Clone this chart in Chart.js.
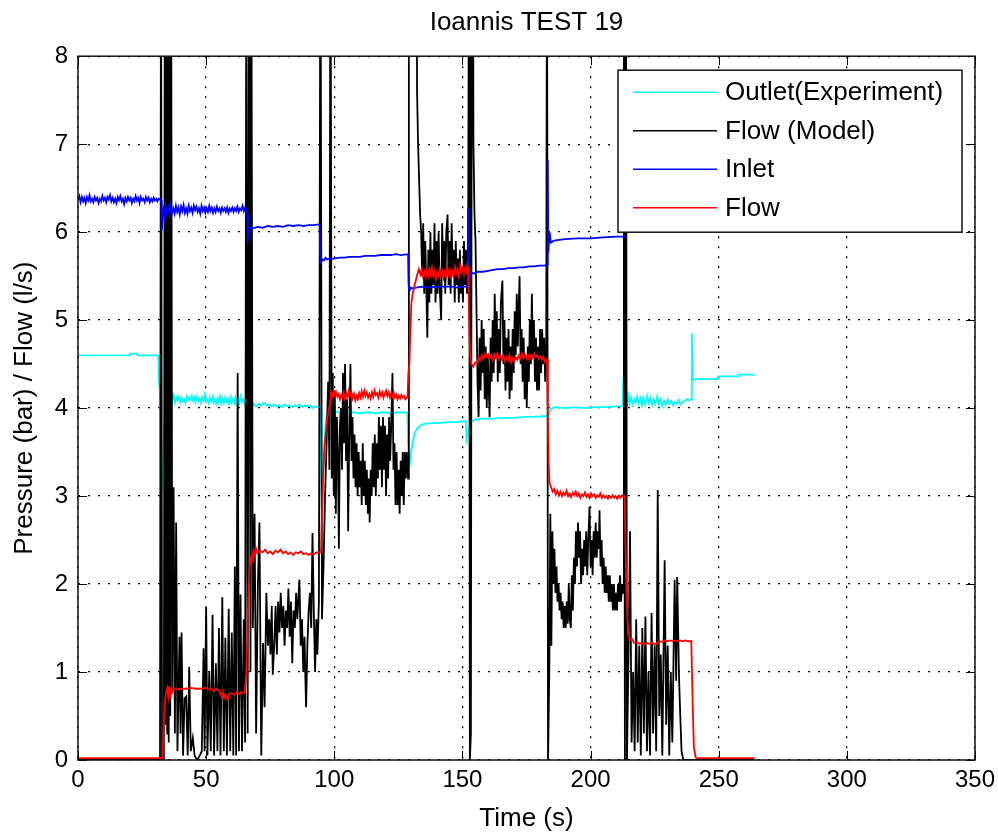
<!DOCTYPE html>
<html>
<head>
<meta charset="utf-8">
<title>Ioannis TEST 19</title>
<script src="https://cdn.jsdelivr.net/npm/chart.js@4.4.1/dist/chart.umd.min.js"></script>
<style>
  body { margin: 0; background: #ffffff; }
</style>
</head>
<body>
<canvas id="myChart" width="998" height="834"></canvas>
<script>
// [time (s), value] pairs
var outletExperiment = [
  [0,4.6],[20,4.6],[20.3,4.62],[23,4.62],[23.3,4.6],[31.3,4.6],[31.5,4.32],[32.0,4.2],[32.4,3.03],[32.9,3.1],
  [33.4,3.6],[33.9,4.0],[34.4,4.18],[34.9,4.05],[35.4,4.15],[35.9,4.06],[36.4,4.2],[36.9,4.08],[37.4,4.14],[37.9,4.06],
  [38.4,4.12],[38.9,4.09],[39.4,4.13],[39.9,4.07],[40.4,4.12],[40.9,4.08],[41.4,4.1],[41.9,4.06],[42.4,4.13],[42.9,4.09],
  [43.4,4.12],[43.9,4.1],[44.4,4.14],[44.9,4.08],[45.4,4.12],[45.9,4.07],[46.4,4.13],[46.9,4.08],[47.4,4.11],[47.9,4.06],
  [48.4,4.12],[48.9,4.08],[49.4,4.15],[49.9,4.07],[50.4,4.1],[50.9,4.06],[51.4,4.12],[51.9,4.08],[52.4,4.13],[52.9,4.06],
  [53.4,4.1],[53.9,4.05],[54.4,4.11],[54.9,4.07],[55.4,4.13],[55.9,4.05],[56.4,4.1],[56.9,4.06],[57.4,4.12],[57.9,4.07],
  [58.4,4.11],[58.9,4.05],[59.4,4.12],[59.9,4.06],[60.4,4.1],[60.9,4.05],[61.4,4.12],[61.9,4.06],[62.4,4.11],[62.9,4.05],
  [63.4,4.13],[63.9,4.07],[64.4,4.1],[64.9,4.05],[65.5,4.12],[65.9,3.6],[66.3,2.62],[66.8,3.3],[67.3,3.85],[67.8,4.0],
  [68.5,4.05],[69.5,4.02],[70.5,4.05],[71.5,4.03],[72.5,4.06],[73.5,4.03],[74.5,4.04],[75.5,4.02],[76.5,4.04],[77.5,4.02],
  [78.5,4.03],[79.5,4.01],[80.5,4.04],[81.5,4.02],[82.5,4.03],[83.5,4.01],[84.5,4.03],[85.5,4.02],[86.5,4.04],[87.5,4.01],
  [88.5,4.03],[89.5,4.02],[90.5,4.03],[91.5,4.0],[92.5,4.02],[93.5,4.01],[94.4,4.02],[94.7,3.6],[95.1,2.85],[95.6,3.2],
  [96.1,3.6],[96.7,3.85],[97.3,3.95],[98,3.97],[100,3.96],[102,3.95],[104,3.96],[106,3.95],[108,3.95],[110,3.94],
  [112,3.95],[114,3.95],[116,3.94],[118,3.95],[120,3.95],[122,3.94],[124,3.95],[126,3.95],[128.5,3.95],[128.8,3.6],
  [129.3,3.33],[129.9,3.48],[130.6,3.62],[131.4,3.72],[132.4,3.77],[133.5,3.8],[135,3.82],[138,3.83],[141,3.83],[144,3.84],
  [147,3.84],[150,3.85],[151.3,3.85],[151.6,3.64],[152.3,3.72],[153,3.82],[153.8,3.86],[155,3.87],[158,3.88],[162,3.88],
  [166,3.89],[170,3.89],[174,3.9],[178,3.9],[183,3.91],[183.5,3.93],[184.5,3.99],[186,4.01],[190,4.0],[194,4.01],
  [198,4.0],[202,4.01],[206,4.01],[210,4.02],[212.5,4.02],[212.8,4.35],[213.2,4.0],[213.7,4.18],[214.2,4.03],[214.7,4.14],
  [215.2,4.05],[215.8,4.12],[216.4,4.04],[217,4.1],[217.6,4.06],[218.2,4.13],[218.8,4.05],[219.4,4.11],[220,4.03],[220.6,4.12],
  [221.3,4.04],[222,4.14],[222.6,4.06],[223.3,4.12],[224,4.03],[224.6,4.1],[225.3,4.05],[226,4.13],[226.6,4.04],[227.3,4.1],
  [228,4.02],[228.7,4.08],[229.4,4.04],[230.1,4.1],[230.8,4.05],[231.5,4.08],[232.2,4.03],[232.9,4.07],[233.6,4.05],[234.3,4.09],
  [235,4.04],[235.8,4.07],[236.6,4.08],[237.4,4.1],[238.2,4.09],[239.2,4.1],[239.5,4.85],[239.8,4.32],[241,4.33],[246,4.33],
  [249.5,4.33],[249.8,4.36],[257.5,4.36],[257.8,4.38],[264,4.38]
];

var flowModel = [
  [0,0],[32.0,0],[32.4,10],[32.8,0],[33.5,0],[33.9,10],[34.2,0.4],[34.5,10],[34.8,0.3],[35.1,10],
  [35.4,0.2],[35.7,10],[36.0,0.5],[36.3,10],[36.8,0.8],[37.3,3.1],[37.8,0.3],[38.3,2.7],[38.8,0.1],[39.6,1.4],
  [40.0,0.3],[40.4,1.45],[41.0,0.05],[41.6,0.7],
  [42.2,0.72],[42.8,0.05],[43.4,1.06],[44.0,0.1],[44.8,0.25],[45.5,0.05],[46.5,0],[47.5,0.05],[48.3,0.1],[49.0,1.27],
  [49.4,0.1],[50.0,1.74],[50.5,0.05],[51.2,1.0],[51.8,0.1],[52.5,1.65],[53.1,0.05],[53.8,1.1],[54.4,0.1],[55.0,1.5],
  [55.6,0.05],[56.3,1.85],[56.9,0.1],[57.5,1.39],[58.1,0.05],[58.8,1.72],[59.4,0.1],[60.0,1.45],[60.6,0.05],[61.2,2.2],
  [61.7,0.05],[62.3,4.4],[62.8,0.1],[63.4,1.88],[64.0,0.1],[64.7,1.6],[65.2,0.2],[65.7,10],[66.2,0.3],[66.8,10],
  [67.3,1.0],[67.6,10],[68.2,1.5],[68.9,2.8],[69.5,0.3],[70.2,2.0],[70.8,2.7],[71.5,0.05],[72.2,1.33],[72.8,0.6],
  [73.5,1.9],[74.1,1.3],[74.6,1.6],[75.1,1.2],[75.6,1.75],[76.0,0.97],[76.6,1.33],[77.1,1.75],[77.6,1.2],[78.1,1.8],
  [78.6,1.45],[79.1,1.9],[79.6,1.5],[80.1,1.75],[80.6,1.3],[81.1,1.7],[81.6,1.5],[82.1,1.95],[82.6,1.4],[83.1,1.8],
  [83.6,1.1],[84.1,1.7],[84.6,1.5],[85.1,1.9],[85.6,1.6],[86.0,1.85],[86.4,2.05],[86.9,1.3],[87.4,1.6],[87.9,1.0],
  [88.4,1.4],[88.7,0.95],[89.0,0.6],[89.5,1.3],[90.0,1.7],[90.5,1.9],[91.0,1.5],[91.5,2.58],[92.0,1.7],[92.5,1.0],
  [93.0,1.6],[93.4,1.2],[94.0,1.8],[94.6,10],[95.2,1.6],[95.8,2.2],[96.4,3.0],[97.0,3.6],[97.6,4.3],[98.1,3.3],
  [98.5,10],[99.0,3.2],[99.4,4.4],[99.8,3.0],[100.2,4.2],[100.6,2.8],[101.0,3.9],[101.4,3.5],[101.8,2.4],[102.2,3.8],
  [102.6,4.0],[103.0,3.3],[103.4,4.4],[103.8,3.6],[104.2,4.5],[104.6,3.4],[105.0,4.1],[105.4,2.6],[105.8,3.6],[106.3,4.5],
  [106.7,3.4],[107.1,3.9],[107.5,3.2],[107.9,3.7],[108.3,3.1],[108.7,3.6],[109.1,3.0],[109.5,3.5],[109.9,3.1],[110.3,3.4],
  [110.7,2.9],[111.1,3.6],[111.5,3.0],[111.9,3.4],[112.3,2.9],[112.7,3.3],[113.1,2.8],[113.5,3.2],[113.8,2.7],[114.2,3.3],
  [114.6,3.0],[115.0,3.6],[115.4,3.1],[115.8,3.7],[116.2,3.0],[116.6,3.6],[117.0,3.2],[117.4,3.9],[117.8,3.3],[118.2,3.8],
  [118.6,3.1],[119.0,3.9],[119.4,3.3],[119.8,3.8],[120.2,3.0],[120.6,3.7],[121.0,3.2],[121.4,3.9],[121.8,3.4],[122.2,3.8],
  [122.7,4.4],[123.1,3.3],[123.5,3.6],[123.9,2.9],[124.3,3.5],[124.7,2.9],[125.1,3.3],[125.5,2.8],[125.9,3.4],[126.3,3.0],
  [126.7,3.5],[127.1,2.9],[127.5,3.5],[127.9,3.2],[128.3,3.5],[128.8,3.2],[129.1,10],[132.0,10],[132.3,7.6],[132.7,7.0],
  [133.1,6.6],[133.5,6.2],[133.9,6.0],[134.3,5.5],[134.7,6.1],[135.1,5.3],[135.5,5.9],[135.9,5.4],[136.3,4.8],[136.7,5.8],
  [137.1,5.2],[137.5,6.0],[137.9,5.3],[138.3,5.8],[138.7,5.4],[139.1,6.1],[139.5,5.2],[139.9,5.9],[140.3,5.3],[140.7,6.0],
  [141.1,5.4],[141.7,5.0],[142.1,6.1],[142.5,5.5],[142.9,5.9],[143.3,5.3],[143.7,6.0],[144.2,6.2],[144.6,5.4],[145.0,5.9],
  [145.4,5.3],[145.8,6.1],[146.2,5.5],[146.6,5.8],[147.0,5.2],[147.4,5.9],[147.8,5.4],[148.2,5.7],[148.6,5.2],[149.0,5.8],
  [149.4,5.3],[149.8,5.6],[150.2,5.2],[150.6,5.9],[151.0,5.4],[151.4,5.8],[151.8,5.3],[152.2,5.6],[152.6,10],[152.9,0],
  [153.3,0.3],[153.7,10],[154.1,10],[154.3,7.0],[154.7,6.2],[155.1,5.9],[155.5,5.1],[155.9,4.3],[156.3,3.9],[156.7,4.8],
  [157.1,4.2],[157.5,5.0],[157.9,4.4],[158.3,4.9],[158.7,4.1],[159.1,4.7],[159.5,4.0],[159.9,4.6],[160.3,4.2],[160.6,3.9],
  [161.0,4.8],[161.4,4.3],[161.8,5.0],[162.2,4.4],[162.6,5.3],[163.0,4.6],[163.4,5.1],[163.8,4.3],[164.2,4.9],[164.6,4.4],
  [165.0,5.2],[165.6,5.45],[166.0,4.5],[166.4,5.0],[166.8,4.2],[167.2,4.8],[167.6,4.3],[168.0,4.9],[168.4,4.1],[168.8,4.7],
  [169.2,4.2],[169.6,4.9],[170.0,4.4],[170.4,5.1],[170.8,4.6],[171.2,5.3],[171.6,4.7],[172.0,5.2],[172.3,5.5],[172.7,4.5],
  [173.1,4.9],[173.5,4.3],[173.9,4.8],[174.3,4.1],[174.7,4.6],[175.1,4.0],[175.5,4.7],[175.9,4.3],[176.3,5.0],[176.7,4.5],
  [177.1,5.3],[177.5,4.6],[177.9,5.0],[178.3,4.3],[178.7,4.8],[179.1,4.2],[179.5,4.7],[179.9,4.2],[180.3,4.9],[180.7,4.4],
  [181.1,4.9],[181.5,4.5],[181.9,4.8],[182.3,4.3],[182.7,4.6],[183.0,10],[183.4,0],[183.9,1.0],[184.3,2.8],[184.7,1.3],
  [185.1,2.6],[185.5,2.0],[185.9,2.4],[186.3,1.9],[186.7,2.2],[187.1,1.8],[187.5,2.0],[187.9,1.7],[188.3,1.9],[188.7,1.6],
  [189.1,1.8],[189.5,1.5],[189.9,1.75],[190.3,1.5],[190.7,1.8],[191.1,1.55],[191.5,2.0],[191.9,1.6],[192.3,1.5],[192.7,2.1],
  [193.1,1.7],[193.5,2.3],[193.9,2.0],[194.3,2.6],[194.7,2.2],[195.1,2.7],[195.5,2.3],[195.9,2.6],[196.3,2.0],[196.7,2.4],
  [197.1,2.1],[197.5,2.5],[197.9,2.2],[198.3,2.6],[198.7,2.1],[199.1,2.5],[199.6,2.88],[200.0,2.2],[200.4,2.5],[200.8,2.1],
  [201.2,2.6],[201.6,2.3],[202.0,2.7],[202.4,2.3],[202.8,2.6],[203.2,2.4],[203.5,2.84],[203.9,2.2],[204.3,2.5],[204.7,2.0],
  [205.1,2.3],[205.5,1.9],[205.9,2.2],[206.3,1.9],[206.7,2.1],[207.1,1.8],[207.5,2.1],[207.9,1.8],[208.3,2.0],[208.7,1.7],
  [209.1,2.0],[209.5,1.7],[209.9,1.9],[210.3,1.7],[210.7,2.0],[211.1,1.8],[211.5,2.1],[211.9,1.8],[212.3,2.0],[212.7,1.9],
  [213.0,10],[213.4,0],[213.8,10],[214.2,0],[214.8,1.2],[215.4,2.6],[216.0,0.2],[216.6,1.0],[217.2,0.1],[217.8,1.6],
  [218.4,0.2],[219.0,1.3],[219.6,0.05],[220.2,1.5],[220.8,0.3],[221.4,1.63],[222.0,0.1],[222.6,1.0],[223.2,0.05],[223.8,1.67],
  [224.4,0.3],[225.0,1.3],[225.6,0.1],[226.2,3.07],[226.8,0.5],[227.4,1.2],[228.0,0.05],[228.9,2.27],[229.5,0.4],[230.1,1.3],
  [230.7,0.05],[231.3,1.0],[231.9,0.2],[232.8,2.05],[233.4,0.9],[233.8,2.08],[234.5,0.95],[235.0,0.5],[235.5,0.1],[236.2,0],
  [264,0]
];

var inlet = [
  [0,6.37],[0.5,6.41],[1,6.34],[1.5,6.4],[2,6.35],[2.5,6.39],[3,6.33],[3.5,6.4],[4,6.36],[4.5,6.42],
  [5,6.35],[5.5,6.38],[6,6.34],[6.5,6.4],[7,6.36],[7.5,6.39],[8,6.33],[8.5,6.38],[9,6.35],[9.5,6.41],
  [10,6.36],[10.5,6.39],[11,6.34],[11.5,6.4],[12,6.37],[12.5,6.42],[13,6.35],[13.5,6.39],[14,6.34],[14.5,6.38],
  [15,6.33],[15.5,6.4],[16,6.36],[16.5,6.41],[17,6.35],[17.5,6.38],[18,6.32],[18.5,6.39],[19,6.35],[19.5,6.4],
  [20,6.36],[20.5,6.39],[21,6.33],[21.5,6.38],[22,6.35],[22.5,6.41],[23,6.36],[23.5,6.39],[24,6.33],[24.5,6.4],
  [25,6.36],[25.5,6.38],[26,6.34],[26.5,6.4],[27,6.36],[27.5,6.39],[28,6.34],[28.5,6.38],[29,6.35],[29.5,6.39],
  [30,6.36],[30.5,6.38],[31,6.35],[31.5,6.38],[32.3,6.37],[32.5,6.36],[32.7,6.02],[33.0,6.15],[33.4,6.25],[33.8,6.18],
  [34.2,6.3],[34.7,6.22],[35.2,6.28],[35.7,6.2],[36.2,6.3],[36.7,6.22],[37.2,6.27],[37.7,6.21],[38.2,6.3],[38.7,6.23],
  [39.2,6.28],[39.7,6.2],[40.2,6.29],[40.7,6.24],[41.2,6.31],[41.7,6.22],[42.2,6.27],[42.7,6.21],[43.2,6.3],[43.7,6.24],
  [44.2,6.28],[44.7,6.22],[45.2,6.3],[45.7,6.25],[46.2,6.29],[46.7,6.23],[47.2,6.27],[47.7,6.21],[48.2,6.3],[48.7,6.24],
  [49.2,6.28],[49.7,6.22],[50.2,6.27],[50.7,6.23],[51.2,6.3],[51.7,6.24],[52.2,6.28],[52.7,6.22],[53.2,6.27],[53.7,6.23],
  [54.2,6.29],[54.7,6.24],[55.2,6.27],[55.7,6.22],[56.2,6.28],[56.7,6.24],[57.2,6.27],[57.7,6.23],[58.2,6.28],[58.7,6.22],
  [59.2,6.27],[59.7,6.24],[60.2,6.28],[60.7,6.23],[61.2,6.27],[61.7,6.24],[62.2,6.29],[62.7,6.23],[63.2,6.27],[63.7,6.25],
  [64.2,6.3],[64.7,6.24],[65.2,6.28],[65.7,6.25],[66.0,6.2],[66.3,5.91],[66.8,5.98],[67.4,6.05],[68,6.04],[70,6.06],
  [72,6.05],[74,6.07],[76,6.06],[78,6.07],[80,6.06],[82,6.08],[84,6.07],[86,6.08],[88,6.07],[90,6.08],
  [92,6.08],[94.3,6.09],[94.5,5.75],[94.8,5.66],[95.4,5.69],[96,5.68],[96.6,5.71],[97.2,5.69],[98,5.7],[100,5.7],
  [102,5.71],[104,5.71],[106,5.72],[108,5.72],[110,5.72],[112,5.73],[114,5.73],[116,5.73],[118,5.74],[120,5.74],
  [122,5.74],[124,5.75],[126,5.74],[128.8,5.75],[129.0,5.4],[129.3,5.33],[129.8,5.37],[130.5,5.36],[132,5.37],[134,5.38],
  [136,5.37],[138,5.38],[140,5.37],[142,5.38],[144,5.38],[146,5.38],[148,5.37],[150,5.38],[152.0,5.38],[152.2,6.28],
  [152.5,5.52],[153,5.49],[153.5,5.54],[154.5,5.53],[156,5.55],[158,5.55],[160,5.56],[162,5.57],[164,5.58],[166,5.58],
  [168,5.59],[170,5.59],[172,5.6],[174,5.6],[176,5.61],[178,5.61],[180,5.62],[182,5.62],[183.1,5.63],[183.3,6.82],
  [183.5,5.77],[184,6.0],[184.5,5.88],[185.5,5.9],[187,5.91],[190,5.92],[195,5.93],[200,5.93],[205,5.94],[210,5.95],
  [213.5,5.95]
];

var flow = [
  [0,0.02],[33.0,0.02],[33.3,0.3],[33.7,0.55],[34.0,0.7],[34.4,0.78],[34.8,0.82],[35.2,0.72],[35.6,0.84],[36.0,0.7],
  [36.4,0.8],[36.8,0.77],[37.3,0.82],[38,0.8],[40,0.81],[42,0.81],[44,0.82],[46,0.81],[48,0.81],[50,0.82],
  [51,0.8],[52,0.81],[53,0.78],[54,0.81],[55,0.79],[56,0.72],[56.5,0.78],[57,0.7],[57.5,0.74],[58.3,0.69],
  [59,0.75],[60,0.76],[61,0.74],[62,0.77],[63,0.75],[64,0.77],[65,0.76],[65.6,0.95],[66.0,1.35],[66.5,1.9],
  [67.0,2.2],[67.5,2.3],[68.0,2.27],[68.5,2.38],[69,2.33],[69.5,2.4],[70,2.35],[71,2.38],[72,2.36],[73,2.39],
  [74,2.35],[75,2.37],[76,2.34],[77,2.38],[78,2.36],[79,2.39],[80,2.35],[81,2.37],[82,2.34],[83,2.36],
  [84,2.33],[85,2.36],[86,2.35],[87,2.37],[88,2.34],[89,2.35],[90,2.33],[91,2.35],[92,2.34],[93,2.36],
  [94.8,2.36],[95.2,2.8],[95.6,3.2],[96.1,3.5],[96.6,3.7],[97.1,3.85],[97.7,3.95],[98.3,4.05],[98.7,4.17],[99.2,4.13],
  [99.7,4.2],[100.2,4.15],[100.7,4.18],[101.2,4.13],[101.7,4.16],[102.2,4.1],[102.7,4.15],[103.2,4.12],[103.7,4.18],[104.2,4.1],
  [104.7,4.17],[105.2,4.12],[105.7,4.2],[106.2,4.14],[106.7,4.18],[107.2,4.11],[107.7,4.16],[108.2,4.09],[108.7,4.14],[109.2,4.1],
  [109.7,4.17],[110.2,4.12],[110.7,4.19],[111.2,4.13],[111.7,4.2],[112.2,4.14],[112.7,4.18],[113.2,4.12],[113.7,4.16],[114.2,4.11],
  [114.7,4.18],[115.2,4.13],[115.7,4.2],[116.2,4.15],[116.7,4.17],[117.2,4.12],[117.7,4.19],[118.2,4.14],[118.7,4.18],[119.2,4.12],
  [119.7,4.16],[120.2,4.2],[120.7,4.14],[121.2,4.18],[121.7,4.12],[122.2,4.17],[122.7,4.13],[123.2,4.18],[123.7,4.12],[124.2,4.15],
  [124.7,4.1],[125.2,4.14],[125.7,4.11],[126.2,4.15],[126.7,4.12],[127.2,4.14],[127.7,4.1],[128.3,4.12],[128.6,4.12],[128.9,4.4],
  [129.3,4.5],[129.7,4.9],[130.1,5.2],[130.6,5.3],[131.2,5.38],[131.8,5.45],[132.4,5.52],[133.0,5.58],[133.6,5.52],[134.1,5.58],
  [134.6,5.5],[135.1,5.55],[135.6,5.48],[136.1,5.56],[136.6,5.5],[137.1,5.58],[137.6,5.52],[138.1,5.6],[138.6,5.5],[139.1,5.55],
  [139.6,5.47],[140.1,5.54],[140.6,5.5],[141.1,5.58],[141.6,5.52],[142.1,5.56],[142.6,5.48],[143.1,5.55],[143.6,5.5],[144.1,5.6],
  [144.6,5.52],[145.1,5.57],[145.6,5.49],[146.1,5.55],[146.6,5.5],[147.1,5.6],[147.6,5.53],[148.1,5.58],[148.6,5.5],[149.1,5.62],
  [149.6,5.54],[150.1,5.59],[150.6,5.52],[151.1,5.6],[151.6,5.55],[152.0,5.62],[152.3,5.58],[152.6,5.0],[153.0,4.6],[153.5,4.5],
  [154.2,4.47],[155.0,4.52],[155.8,4.52],[156.4,4.58],[157,4.55],[157.6,4.6],[158.2,4.56],[158.8,4.62],[159.4,4.58],[160,4.61],
  [160.6,4.56],[161.2,4.6],[161.8,4.55],[162.4,4.61],[163,4.57],[163.6,4.62],[164.2,4.56],[164.8,4.6],[165.4,4.55],[166,4.59],
  [166.6,4.53],[167.2,4.58],[167.8,4.54],[168.4,4.6],[169,4.52],[169.6,4.57],[170.2,4.53],[170.8,4.58],[171.4,4.55],[172,4.6],
  [172.6,4.56],[173.2,4.62],[173.8,4.57],[174.4,4.61],[175,4.56],[175.6,4.6],[176.2,4.55],[176.8,4.6],[177.4,4.57],[178,4.62],
  [178.6,4.58],[179.2,4.6],[179.8,4.56],[180.4,4.59],[181,4.55],[181.6,4.58],[182.2,4.52],[183.0,4.55],[183.3,4.0],[183.6,3.4],
  [184.0,3.15],[184.6,3.1],[185.2,3.05],[185.8,3.08],[186.4,3.02],[187,3.06],[187.6,3.01],[188.2,3.05],[188.8,3.0],[189.4,3.04],
  [190,3.01],[190.6,3.06],[191.2,3.0],[191.8,3.03],[192.4,2.99],[193,3.04],[193.6,3.01],[194.2,3.05],[194.8,3.0],[195.4,3.03],
  [196,2.98],[196.6,3.02],[197.2,3.0],[197.8,3.04],[198.4,2.99],[199,3.02],[199.6,2.98],[200.2,3.03],[200.8,3.0],[201.4,3.02],
  [202,2.98],[202.6,3.01],[203.2,2.99],[203.8,3.03],[204.4,2.98],[205,3.01],[205.6,2.98],[206.2,3.0],[206.8,2.97],[207.4,3.0],
  [208,2.98],[208.6,3.01],[209.2,2.98],[209.8,3.0],[210.4,2.97],[211,3.0],[211.6,2.98],[212.2,3.01],[212.8,2.99],[213.3,3.0],
  [213.6,2.5],[214.0,1.9],[214.4,1.6],[214.8,1.45],[215.3,1.36],[216,1.38],[217,1.33],[218,1.34],[219,1.32],[220,1.33],
  [221,1.31],[222,1.33],[223,1.32],[224,1.34],[225,1.31],[226,1.33],[227,1.35],[228,1.34],[229,1.36],[230,1.35],
  [231,1.36],[232,1.35],[233,1.36],[234,1.35],[235,1.36],[236,1.35],[237,1.36],[238,1.35],[239.3,1.35],[239.8,0.68],
  [240.3,0.15],[241.0,0.03],[242,0.02],[264,0.02]
];

var seriesNames = ['Outlet(Experiment)', 'Flow (Model)', 'Inlet', 'Flow'];
var seriesColours = ['#00ffff', '#000000', '#0000ff', '#ff0000'];
var xTicks = [0, 50, 100, 150, 200, 250, 300, 350];
var yTicks = [0, 1, 2, 3, 4, 5, 6, 7, 8];

var toPoints = function(pairs){
    return pairs.map(function(p){
        return {x: p[0], y: p[1]};
    });
}

var allSeries = [outletExperiment, flowModel, inlet, flow];
var datasets = allSeries.map(function(series, i){
    return {
        label: seriesNames[i],
        data: toPoints(series),
        borderColor: seriesColours[i],
        backgroundColor: seriesColours[i],
        borderWidth: 1.8,
        pointRadius: 0,
        tension: 0,
        fill: false,
        order: 4 - i   // red drawn on top, cyan underneath, like the original
    };
});

// box round the axes plus inward tick marks on all four sides
var axesBox = {
    id: 'axesBox',
    afterDatasetsDraw: function(chart){
        var a = chart.chartArea;
        var c = chart.ctx;
        var xs = chart.scales.x;
        var ys = chart.scales.y;
        c.save();
        c.strokeStyle = '#000';
        c.lineWidth = 1;
        c.beginPath();
        xTicks.forEach(function(v){
            var px = Math.round(xs.getPixelForValue(v)) + 0.5;
            c.moveTo(px, a.bottom); c.lineTo(px, a.bottom - 9);
            c.moveTo(px, a.top); c.lineTo(px, a.top + 9);
        });
        yTicks.forEach(function(v){
            var py = Math.round(ys.getPixelForValue(v)) + 0.5;
            c.moveTo(a.left, py); c.lineTo(a.left + 9, py);
            c.moveTo(a.right, py); c.lineTo(a.right - 9, py);
        });
        c.stroke();
        c.lineWidth = 1.5;
        c.strokeStyle = '#111';
        c.strokeRect(a.left, a.top, a.right - a.left, a.bottom - a.top);
        c.restore();
    }
};

// legend box in the top right corner inside the axes
var boxLegend = {
    id: 'boxLegend',
    afterDraw: function(chart){
        var a = chart.chartArea;
        var c = chart.ctx;
        var w = 344, h = 162;
        var left = a.right - 13 - w;
        var top = a.top + 14;
        c.save();
        c.fillStyle = '#fff';
        c.fillRect(left, top, w, h);
        c.strokeStyle = '#111';
        c.lineWidth = 1.5;
        c.strokeRect(left, top, w, h);
        c.font = "26px 'Liberation Sans', Arial, sans-serif";
        c.textBaseline = 'middle';
        c.textAlign = 'left';
        chart.data.datasets.forEach(function(ds, i){
            var y = top + 22 + i * 38.5;
            c.strokeStyle = ds.borderColor;
            c.lineWidth = 1.5;
            c.beginPath();
            c.moveTo(left + 15, y);
            c.lineTo(left + 99, y);
            c.stroke();
            c.fillStyle = '#000';
            c.fillText(ds.label, left + 107, y + 1);
        });
        c.restore();
    }
};

Chart.defaults.font.family = "'Liberation Sans', Arial, sans-serif";
Chart.defaults.color = '#000';

var ctx = document.getElementById('myChart');
var myChart = new Chart(ctx, {
    type: 'line',
    data: { datasets: datasets },
    options: {
        responsive: false,
        animation: false,
        layout: { padding: { left: 0, right: 23, top: 0, bottom: 0 } },
        plugins: {
            legend: { display: false },
            tooltip: { enabled: false },
            title: {
                display: true,
                fullSize: false,
                text: 'Ioannis TEST 19',
                color: '#000',
                font: { size: 26, weight: 'normal' },
                padding: { top: 7, bottom: 18 }
            }
        },
        scales: {
            x: {
                type: 'linear',
                min: 0,
                max: 350,
                afterBuildTicks: function(scale){
                    scale.ticks = xTicks.map(function(v){ return {value: v}; });
                },
                afterFit: function(scale){
                    scale.height = 74;
                    scale.paddingLeft = 0;
                    scale.paddingRight = 0;
                },
                ticks: { color: '#000', font: { size: 24 }, padding: 6, maxRotation: 0 },
                grid: { color: '#000', lineWidth: 1.3, drawTicks: false },
                border: { display: false, dash: [2, 8] },
                title: {
                    display: true,
                    text: 'Time (s)',
                    color: '#000',
                    font: { size: 26 },
                    padding: { top: 0, bottom: 0 }
                }
            },
            y: {
                type: 'linear',
                min: 0,
                max: 8,
                afterBuildTicks: function(scale){
                    scale.ticks = yTicks.map(function(v){ return {value: v}; });
                },
                afterFit: function(scale){ scale.width = 78; },
                ticks: { color: '#000', font: { size: 24 }, padding: 10 },
                grid: { color: '#000', lineWidth: 1.3, drawTicks: false },
                border: { display: false, dash: [2, 8] },
                title: {
                    display: true,
                    text: 'Pressure (bar) / Flow (l/s)',
                    color: '#000',
                    font: { size: 26 },
                    padding: { top: 9, bottom: 0 }
                }
            }
        }
    },
    plugins: [axesBox, boxLegend]
});
</script>
</body>
</html>
